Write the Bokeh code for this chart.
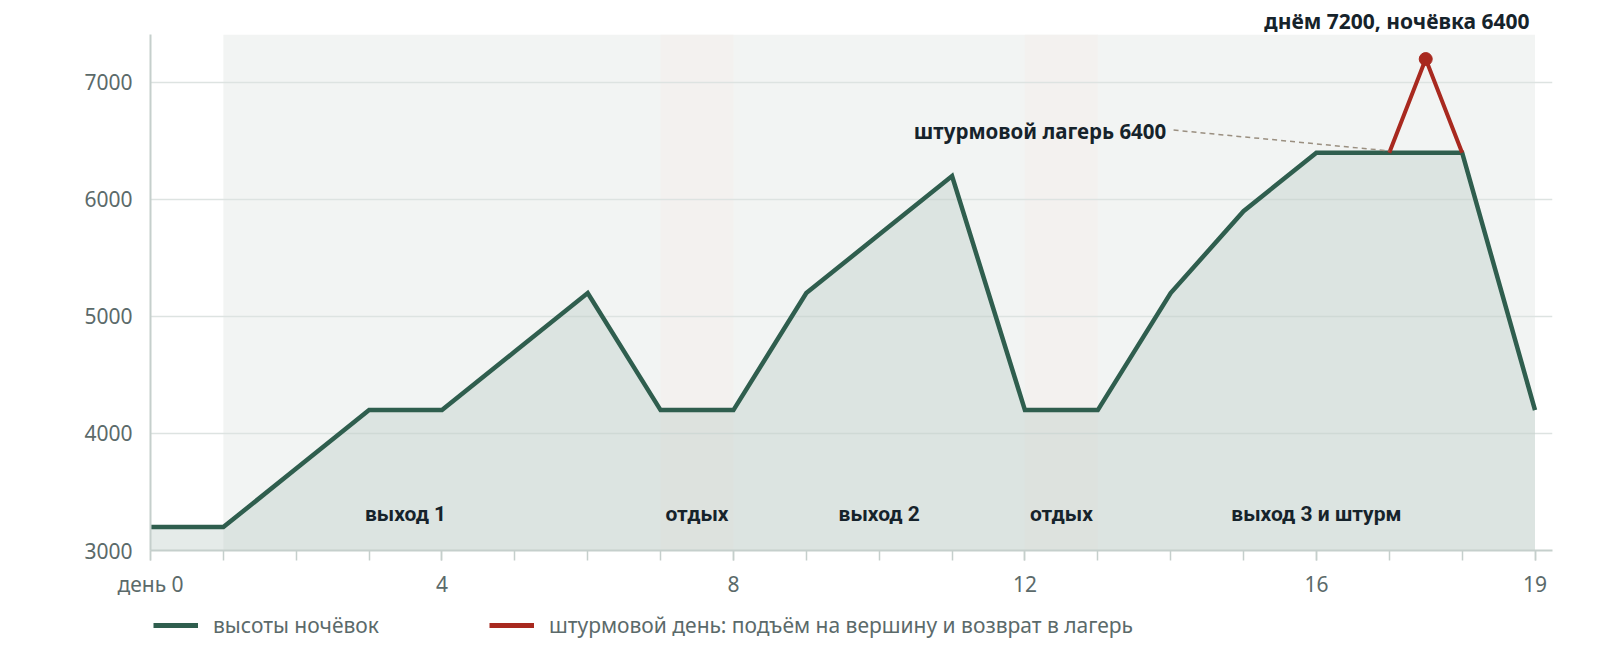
from bokeh.plotting import figure
from bokeh.models import (Range1d, FixedTicker, Legend, LegendItem, Label,
                          ColumnDataSource)
from bokeh.layouts import column
from bokeh.core.properties import value
from bokeh.embed import file_html
from bokeh.resources import INLINE

# ночёвки по дням
days = list(range(20))
heights = [3200, 3200, 3700, 4200, 4200, 4700, 5200, 4200, 4200, 5200,
           5700, 6200, 4200, 4200, 5200, 5900, 6400, 6400, 6400, 4200]

# штурмовой день
summit_days = [17, 17.5, 18]
summit_heights = [6400, 7200, 6400]

# фазы экспедиции
phase_labels = ["выход 1", "отдых", "выход 2", "отдых", "выход 3 и штурм"]
phase_x = [3.5, 7.5, 10, 12.5, 16]
trek_band = (1, 19)
rest_left = [7, 12]
rest_right = [8, 13]

x_ticks = [0, 4, 8, 12, 16, 19]
y_ticks = [3000, 4000, 5000, 6000, 7000]

GREEN = "#2f5e4e"
RED = "#a8291f"
DARK = "#16232b"
GREY = "#5b6a6a"
AXIS = "#c5cfcc"

p = figure(width=1576, height=600, output_backend="svg",
           toolbar_location=None,
           x_range=Range1d(0, 19.24), y_range=Range1d(3000, 7410),
           min_border_left=150, min_border_right=24, min_border_top=34,
           min_border_bottom=50, outline_line_color=None,
           title="днём 7200, ночёвка 6400")

p.title.align = "right"
p.title.offset = 23
p.title.standoff = 0
p.title.text_font = "Noto Sans"
p.title.text_font_style = "bold"
p.title.text_font_size = "21px"
p.title.text_color = DARK

# фон: период экспедиции и дни отдыха
p.quad(left=[trek_band[0]], right=[trek_band[1]], bottom=[3000], top=[7410],
       fill_color="#f2f4f3", line_color=None, level="image")
p.quad(left=rest_left, right=rest_right, bottom=[3000] * 2, top=[7410] * 2,
       fill_color="#f3f1ef", line_color=None, level="image")

p.xgrid.grid_line_color = None
p.ygrid.ticker = FixedTicker(ticks=y_ticks)
p.ygrid.grid_line_color = "#dde3e1"
p.ygrid.grid_line_width = 1.5

# площадь под профилем
p.varea(x=days, y1=[3000] * len(days), y2=heights,
        fill_color="#b5c6bf", fill_alpha=0.35)

p.line(days, heights, line_color=GREEN, line_width=4.5, line_join="miter")
p.line(summit_days, summit_heights, line_color=RED, line_width=4)
p.scatter([summit_days[1]], [summit_heights[1]], size=13, color=RED)

# подписи фаз
src = ColumnDataSource(dict(x=phase_x, y=[3316] * len(phase_x), t=phase_labels))
p.text(x="x", y="y", text="t", source=src, text_align="center",
       text_baseline="middle", text_font=value("Roboto"),
       text_font_style="bold", text_font_size="21px", text_color=DARK)

# выноска к штурмовому лагерю
p.segment(x0=[14.04], y0=[6593], x1=[17], y1=[6415], line_color="#9a8f80",
          line_width=1.5, line_dash="5 4")
p.add_layout(Label(x=13.94, y=6584, text="штурмовой лагерь 6400",
                   text_align="right", text_baseline="middle",
                   text_font="Noto Sans", text_font_style="bold",
                   text_font_size="20.5px", text_color=DARK))

# оси
xa = p.xaxis[0]
xa.ticker = FixedTicker(ticks=x_ticks, minor_ticks=days)
xa.major_label_overrides = {0: "день 0"}
xa.axis_line_color = AXIS
xa.axis_line_width = 2
xa.major_tick_line_color = AXIS
xa.minor_tick_line_color = AXIS
xa.major_tick_line_width = 1.5
xa.minor_tick_line_width = 1.5
xa.major_tick_out = 10
xa.major_tick_in = 0
xa.minor_tick_out = 10
xa.minor_tick_in = 0
xa.major_label_standoff = 9
xa.major_label_text_font = "Noto Sans"
xa.major_label_text_font_size = "21px"
xa.major_label_text_color = GREY

ya = p.yaxis[0]
ya.ticker = FixedTicker(ticks=y_ticks)
ya.axis_line_color = AXIS
ya.axis_line_width = 2
ya.major_tick_line_color = None
ya.minor_tick_line_color = None
ya.major_label_standoff = 12
ya.major_label_text_font = "Noto Sans"
ya.major_label_text_font_size = "21px"
ya.major_label_text_color = GREY

# легенда отдельной полосой под графиком
lg = figure(width=1576, height=50, output_backend="svg", toolbar_location=None,
            x_axis_type=None, y_axis_type=None, min_border=0,
            outline_line_color=None, x_range=Range1d(0, 1), y_range=Range1d(0, 1))
lg.xgrid.grid_line_color = None
lg.ygrid.grid_line_color = None
g_key = lg.line([-2, -1], [-2, -1], line_color=GREEN, line_width=5)
r_key = lg.line([-2, -1], [-2, -1], line_color=RED, line_width=5)
legend = Legend(items=[LegendItem(label="высоты ночёвок", renderers=[g_key]),
                       LegendItem(label="штурмовой день: подъём на вершину и возврат в лагерь",
                                  renderers=[r_key])],
                orientation="horizontal", location=(3, 11),
                border_line_color=None, background_fill_alpha=0,
                padding=0, margin=0, spacing=110, label_standoff=15,
                glyph_width=45, glyph_height=20,
                label_text_font="Noto Sans", label_text_font_size="21px",
                label_text_color=GREY)
lg.add_layout(legend)

open("out.html", "w").write(file_html(column(p, lg, spacing=0), INLINE))
